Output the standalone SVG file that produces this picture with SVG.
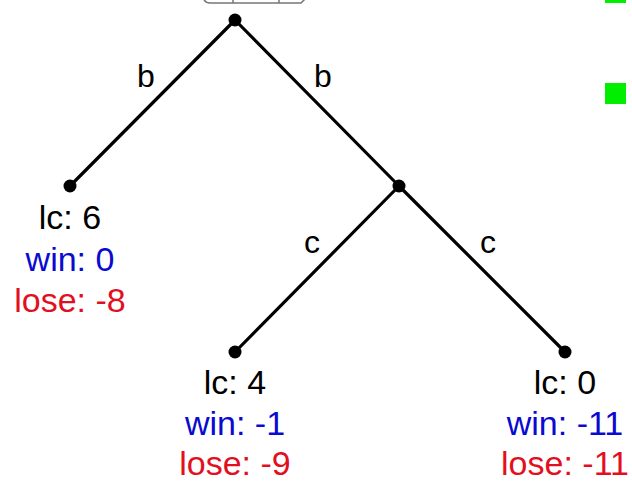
<svg xmlns="http://www.w3.org/2000/svg" width="632" height="483" viewBox="0 0 632 483">
<style>
text{font-family:"Liberation Sans",Arial,sans-serif;font-size:34px;text-anchor:middle}
.k{fill:#000}.w{fill:#0a0ad0}.l{fill:#e2101e}
.e{stroke:#000;stroke-width:3.2;fill:none;stroke-linecap:round}
.lab{font-size:32px}
.g{fill:#00ee00}
</style>
<rect width="632" height="483" fill="#fff"/>
<g id="topbox"><path d="M203,-6 Q203,3 210,3 L301,3 L308,-4" fill="none" stroke="#777" stroke-width="1.5"/><path d="M233,-5 V3 M279,-5 V3" stroke="#777" stroke-width="1.5"/></g>
<g id="legend"><rect class="g" x="605" y="-18" width="21" height="21"/><rect class="g" x="605" y="83" width="21" height="21"/></g>
<g id="connectors">
<line class="e" x1="235" y1="20" x2="70" y2="186"/>
<line class="e" x1="235" y1="20" x2="399" y2="186"/>
<line class="e" x1="399" y1="186" x2="235" y2="352"/>
<line class="e" x1="399" y1="186" x2="565" y2="352"/>
<text class="k lab" x="146" y="87">b</text>
<text class="k lab" x="323" y="87">b</text>
<text class="k lab" x="312" y="253">c</text>
<text class="k lab" x="488" y="253">c</text>
</g>
<g id="root"><circle cx="235" cy="20" r="6.5"/></g>
<g id="n1"><circle cx="70" cy="186" r="6.5"/><text class="k" x="70" y="229">lc: 6</text><text class="w" x="70" y="271">win: 0</text><text class="l" x="70" y="312">lose: -8</text></g>
<g id="n2"><circle cx="399" cy="186" r="6.5"/></g>
<g id="n3"><circle cx="235" cy="352" r="6.5"/><text class="k" x="235" y="394">lc: 4</text><text class="w" x="235" y="435">win: -1</text><text class="l" x="235" y="475">lose: -9</text></g>
<g id="n4"><circle cx="565" cy="352" r="6.5"/><text class="k" x="565" y="394">lc: 0</text><text class="w" x="565" y="435">win: -11</text><text class="l" x="565" y="475">lose: -11</text></g>
</svg>
